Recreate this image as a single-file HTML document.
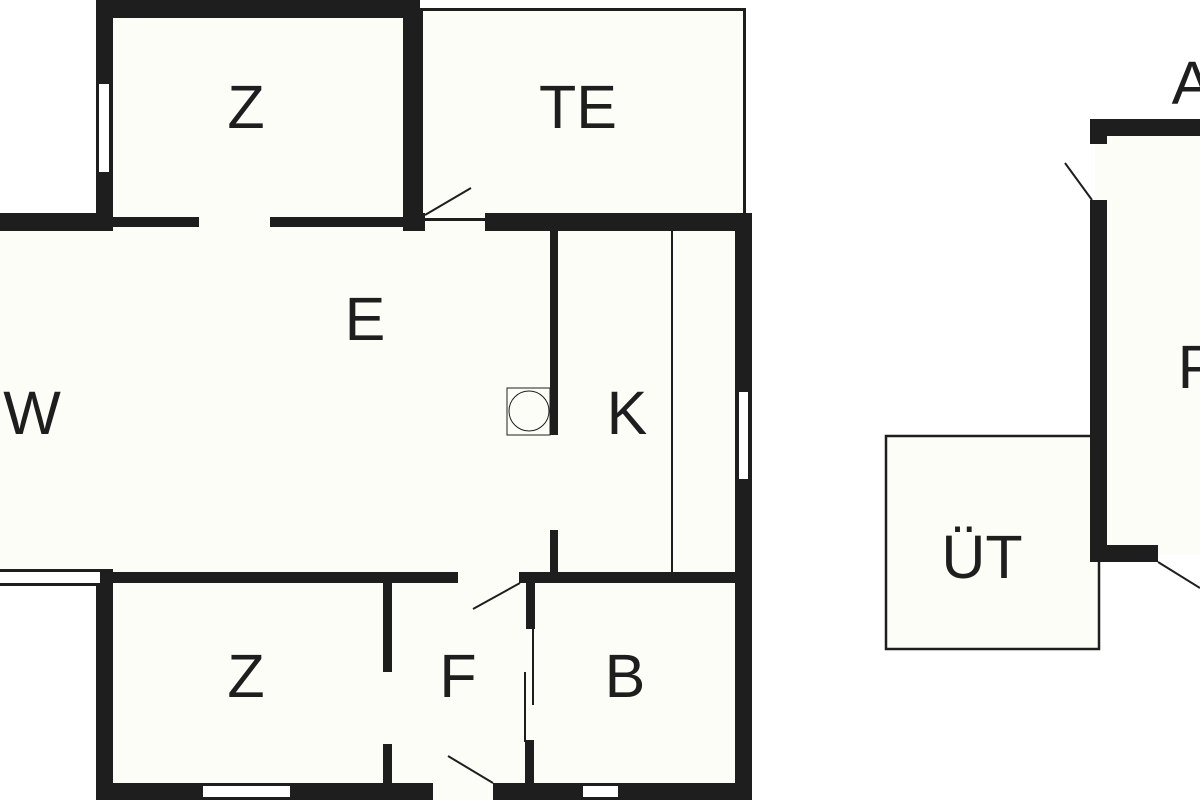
<!DOCTYPE html>
<html><head><meta charset="utf-8"><style>
html,body{margin:0;padding:0;background:#fff;width:1200px;height:800px;overflow:hidden}
svg text{font-family:"Liberation Sans",sans-serif;font-size:61px;fill:#1e1e1e;text-anchor:middle}
</style></head><body>
<svg width="1200" height="800" viewBox="0 0 1200 800" xmlns="http://www.w3.org/2000/svg">
<g fill="#fdfdf8">
<rect x="0" y="222" width="745" height="355"/>
<rect x="100" y="572" width="645" height="228"/>
<rect x="100" y="0" width="320" height="230"/>
<rect x="420" y="8" width="325" height="215"/>
<rect x="1095" y="125" width="105" height="430"/>
<rect x="885" y="435" width="215" height="215"/>
</g>
<rect x="421.5" y="9.5" width="323" height="210" fill="none" stroke="#1e1e1e" stroke-width="3"/>
<rect x="886" y="436" width="213" height="213" fill="none" stroke="#1e1e1e" stroke-width="2.5"/>
<g fill="#1e1e1e">
<rect x="96" y="0" width="324" height="18"/>
<rect x="96" y="0" width="17" height="231"/>
<rect x="403" y="0" width="17" height="231"/>
<rect x="0" y="213" width="113" height="18"/>
<rect x="113" y="217" width="86" height="10"/>
<rect x="270" y="217" width="135" height="10"/>
<rect x="403" y="213" width="22" height="18"/>
<rect x="485" y="213" width="267" height="18"/>
<rect x="735" y="213" width="17" height="587"/>
<rect x="550" y="230" width="8" height="205"/>
<rect x="550" y="530" width="8" height="44"/>
<rect x="671" y="230" width="2" height="345"/>
<rect x="100" y="572" width="358" height="11"/>
<rect x="519" y="572" width="225" height="11"/>
<rect x="0" y="569" width="113" height="3"/>
<rect x="0" y="583" width="100" height="3"/>
<rect x="96" y="569" width="17" height="231"/>
<rect x="96" y="783" width="337" height="17"/>
<rect x="493" y="783" width="259" height="17"/>
<rect x="383" y="583" width="9" height="89"/>
<rect x="383" y="744" width="9" height="40"/>
<rect x="526" y="575" width="9" height="54"/>
<rect x="532" y="628" width="2" height="77"/>
<rect x="524" y="672" width="2" height="70"/>
<rect x="525" y="740" width="9" height="44"/>
<rect x="1090" y="119" width="110" height="17"/>
<rect x="1090" y="119" width="17" height="25"/>
<rect x="1090" y="200" width="17" height="362"/>
<rect x="1090" y="545" width="68" height="17"/>
</g>
<g fill="#fff">
<rect x="99" y="84" width="10" height="88"/>
<rect x="739" y="392" width="9" height="87"/>
<rect x="0" y="572" width="100" height="11"/>
<rect x="203" y="786" width="87" height="11"/>
<rect x="583" y="786" width="35" height="11"/>
</g>
<g stroke="#1e1e1e" stroke-width="2" fill="none">
<line x1="425" y1="215" x2="471" y2="188"/>
<line x1="473" y1="609" x2="520" y2="583"/>
<line x1="448" y1="756" x2="493" y2="783"/>
<line x1="1065" y1="163" x2="1092" y2="200"/>
<line x1="1158" y1="562" x2="1200" y2="588"/>
<rect x="507" y="388" width="43" height="47" stroke-width="1"/>
<circle cx="529" cy="411" r="20" stroke-width="1"/>
</g>
<text x="246" y="128">Z</text>
<text x="578" y="128">TE</text>
<text x="365" y="340">E</text>
<text x="32" y="434">W</text>
<text x="627" y="434">K</text>
<text x="246" y="697">Z</text>
<text x="458" y="697">F</text>
<text x="625" y="697">B</text>
<text x="982" y="578">ÜT</text>
<text x="1192" y="104">A</text>
<text x="1198" y="388">P</text>
</svg>
</body></html>
